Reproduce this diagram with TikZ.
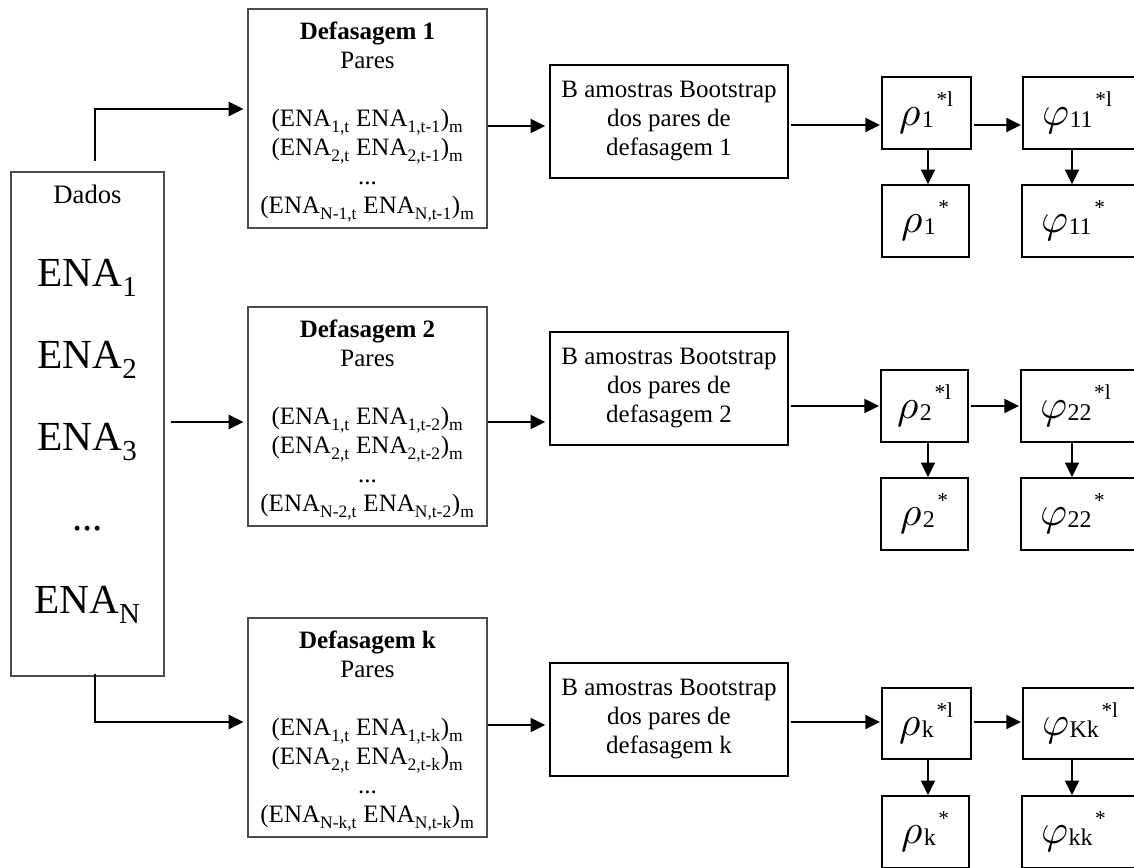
\documentclass[tikz,border=0pt]{standalone}
\usepackage{fontspec}
\usepackage{unicode-math}
\setmainfont{Liberation Serif}
\usetikzlibrary{arrows.meta,fit,calc}

% Greek estimator label: big symbol, lowered subscript, raised superscript
\newcommand\grk[3]{%
  {\fontsize{31}{31}\selectfont$#1$}%
  \raisebox{-1.5pt}{\fontsize{18}{18}\selectfont #2}%
  \raisebox{14pt}{\fontsize{16}{16}\selectfont\kern2pt #3}}

\begin{document}
\begin{tikzpicture}[x=0.75pt,y=-0.75pt,
  inbox/.style={draw=black!70, line width=0.9pt, inner sep=0pt},
  outbox/.style={draw=black, line width=1.1pt, inner sep=0pt},
  txt/.style={align=center, inner sep=0pt, font=\fontsize{18.75}{21.75}\selectfont},
  big/.style={inner sep=0pt, anchor=base, font=\fontsize{31}{31}\selectfont},
  arr/.style={line width=1.5pt, -{Triangle[length=11pt,width=10.5pt]}, shorten >=3pt},
  arrs/.style={line width=1.5pt, -{Triangle[length=11pt,width=10.5pt]}, shorten >=1pt},
  arrd/.style={line width=1.5pt, -{Triangle[length=11pt,width=10.5pt]}}]
\useasboundingbox (0,0) rectangle (1134,867);
\clip (0,0) rectangle (1134,867);

% ---- data column
\node[inbox, fit={(11,172) (164,676)}] (dados) {};
\node[inner sep=0pt, anchor=base, font=\fontsize{20}{20}\selectfont] (tdados) at (87.5,203) {Dados};
\node[big] (ena1) at (87.5,286) {ENA\textsubscript{1}};
\node[big] (ena2) at (87.5,368) {ENA\textsubscript{2}};
\node[big] (ena3) at (87.5,450) {ENA\textsubscript{3}};
\node[big] (enad) at (87.5,530) {...};
\node[big] (enan) at (87.5,613) {ENA\textsubscript{N}};

% ---- lag boxes
\node[inbox, fit={(248,9) (487,228)}] (d1) {};
\node[inbox, fit={(248,307) (487,526)}] (d2) {};
\node[inbox, fit={(248,618) (487,837)}] (d3) {};
\node[txt, anchor=north] (d1t) at ($(d1.north)+(0,13)$) {\textbf{Defasagem 1}\\Pares\\[21.75pt]
 (ENA\textsubscript{1,t} ENA\textsubscript{1,t-1})\textsubscript{m}\\
 (ENA\textsubscript{2,t} ENA\textsubscript{2,t-1})\textsubscript{m}\\
 ...\\
 (ENA\textsubscript{N-1,t} ENA\textsubscript{N,t-1})\textsubscript{m}};
\node[txt, anchor=north] (d2t) at ($(d2.north)+(0,13)$) {\textbf{Defasagem 2}\\Pares\\[21.75pt]
 (ENA\textsubscript{1,t} ENA\textsubscript{1,t-2})\textsubscript{m}\\
 (ENA\textsubscript{2,t} ENA\textsubscript{2,t-2})\textsubscript{m}\\
 ...\\
 (ENA\textsubscript{N-2,t} ENA\textsubscript{N,t-2})\textsubscript{m}};
\node[txt, anchor=north] (d3t) at ($(d3.north)+(0,13)$) {\textbf{Defasagem k}\\Pares\\[21.75pt]
 (ENA\textsubscript{1,t} ENA\textsubscript{1,t-k})\textsubscript{m}\\
 (ENA\textsubscript{2,t} ENA\textsubscript{2,t-k})\textsubscript{m}\\
 ...\\
 (ENA\textsubscript{N-k,t} ENA\textsubscript{N,t-k})\textsubscript{m}};

% ---- bootstrap boxes
\node[outbox, fit={(550,65) (788,178)}] (b1) {};
\node[outbox, fit={(550,332) (788,445)}] (b2) {};
\node[outbox, fit={(550,663) (788,776)}] (b3) {};
\node[txt] (b1t) at (b1.center) {B amostras Bootstrap\\dos pares de\\defasagem 1};
\node[txt] (b2t) at (b2.center) {B amostras Bootstrap\\dos pares de\\defasagem 2};
\node[txt] (b3t) at (b3.center) {B amostras Bootstrap\\dos pares de\\defasagem k};

% ---- estimator boxes
\node[outbox, fit={(882,77) (971,149)}] (r1) {};
\node[outbox, fit={(882,185) (969,257)}] (rs1) {};
\node[outbox, fit={(1023,77) (1160,149)}] (p1) {};
\node[outbox, fit={(1022,185) (1160,257)}] (ps1) {};
\node[outbox, fit={(881,370) (968,442)}] (r2) {};
\node[outbox, fit={(881,478) (968,550)}] (rs2) {};
\node[outbox, fit={(1021,370) (1160,442)}] (p2) {};
\node[outbox, fit={(1021,478) (1160,550)}] (ps2) {};
\node[outbox, fit={(882,688) (971,759)}] (r3) {};
\node[outbox, fit={(882,796) (969,868)}] (rs3) {};
\node[outbox, fit={(1023,688) (1160,759)}] (p3) {};
\node[outbox, fit={(1022,796) (1160,868)}] (ps3) {};

\node[inner sep=0pt] (r1t) at (r1.center) {\grk{\rho}{1}{*l}};
\node[inner sep=0pt] (rs1t) at (rs1.center) {\grk{\rho}{1}{*}};
\node[inner sep=0pt, anchor=west] (p1t) at ($(p1.west)+(20,0)$) {\grk{\varphi}{11}{*l}};
\node[inner sep=0pt, anchor=west] (ps1t) at ($(ps1.west)+(20,0)$) {\grk{\varphi}{11}{*}};
\node[inner sep=0pt] (r2t) at (r2.center) {\grk{\rho}{2}{*l}};
\node[inner sep=0pt] (rs2t) at (rs2.center) {\grk{\rho}{2}{*}};
\node[inner sep=0pt, anchor=west] (p2t) at ($(p2.west)+(20,0)$) {\grk{\varphi}{22}{*l}};
\node[inner sep=0pt, anchor=west] (ps2t) at ($(ps2.west)+(20,0)$) {\grk{\varphi}{22}{*}};
\node[inner sep=0pt] (r3t) at (r3.center) {\grk{\rho}{k}{*l}};
\node[inner sep=0pt] (rs3t) at (rs3.center) {\grk{\rho}{k}{*}};
\node[inner sep=0pt, anchor=west] (p3t) at ($(p3.west)+(20,0)$) {\grk{\varphi}{Kk}{*l}};
\node[inner sep=0pt, anchor=west] (ps3t) at ($(ps3.west)+(20,0)$) {\grk{\varphi}{kk}{*}};

% ---- connector levels
\coordinate (ya) at (0,109);
\coordinate (yb) at (0,126);
\coordinate (yc) at (0,125);
\coordinate (ye) at (0,422);
\coordinate (yf) at (0,406);
\coordinate (yg) at (0,722);
\coordinate (yh) at (0,725);
\coordinate (dtop) at ($(dados.north)+(7.5,-10)$);
\coordinate (dbot) at ($(dados.south)+(7.5,-3)$);

% data to lag boxes
\draw[arr] (dtop) |- (d1.west |- ya);
\draw[arr] ($(dados.east |- ye)+(6,0)$) -- (d2.west |- ye);
\draw[arr] (dbot) |- (d3.west |- yg);

% lag boxes to bootstrap boxes
\draw[arr] (d1.east |- yb) -- (b1.west |- yb);
\draw[arr] (d2.east |- ye) -- (b2.west |- ye);
\draw[arr] (d3.east |- yh) -- (b3.west |- yh);

% bootstrap to estimators
\draw[arrs] ($(b1.east |- yc)+(2,0)$) -- (r1.west |- yc);
\draw[arrs] ($(b2.east |- yf)+(2,0)$) -- (r2.west |- yf);
\draw[arrs] ($(b3.east |- yg)+(2,0)$) -- (r3.west |- yg);

% rho to phi
\draw[arrs] ($(r1.east |- yc)+(2,0)$) -- (p1.west |- yc);
\draw[arrs] ($(r2.east |- yf)+(2,0)$) -- (p2.west |- yf);
\draw[arrs] ($(r3.east |- yg)+(2,0)$) -- (p3.west |- yg);

% replicate to final estimate
\draw[arrd] (r1.south -| 928,0) -- (rs1.north -| 928,0);
\draw[arrd] (p1.south -| 1072,0) -- (ps1.north -| 1072,0);
\draw[arrd] (r2.south -| 928,0) -- (rs2.north -| 928,0);
\draw[arrd] (p2.south -| 1072,0) -- (ps2.north -| 1072,0);
\draw[arrd] (r3.south -| 928,0) -- (rs3.north -| 928,0);
\draw[arrd] (p3.south -| 1072,0) -- (ps3.north -| 1072,0);
\end{tikzpicture}
\end{document}
